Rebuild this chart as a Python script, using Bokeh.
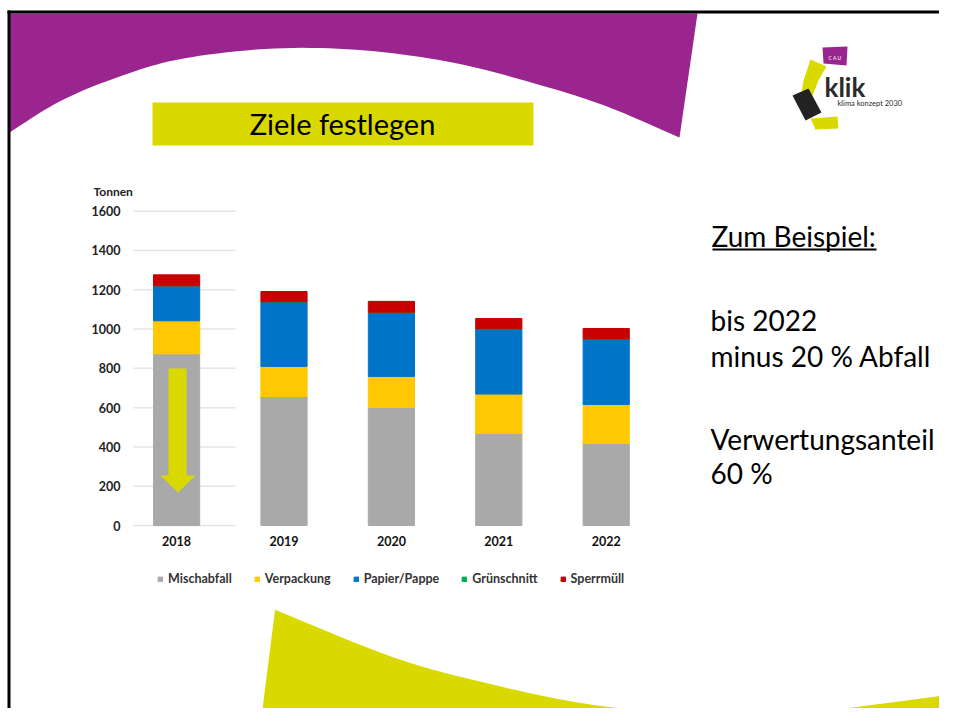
from bokeh.plotting import figure
from bokeh.models import Range1d, LinearAxis, FixedTicker, ColumnDataSource
from bokeh.core.properties import value
from bokeh.embed import file_html
from bokeh.resources import INLINE

# ---------------- data ----------------
years = [2018, 2019, 2020, 2021, 2022]
mischabfall = [874, 657, 601, 468, 418]
verpackung = [168, 153, 158, 201, 198]
papier_pappe = [178, 329, 327, 332, 334]
gruenschnitt = [0, 0, 0, 0, 0]
sperrmuell = [56, 52, 55, 53, 53]
series_names = ["Mischabfall", "Verpackung", "Papier/Pappe", "Grünschnitt", "Sperrmüll"]
y_ticks = [0, 200, 400, 600, 800, 1000, 1200, 1400, 1600]

# ---------------- layout anchors (pixels in picture) ----------------
W, H = 939, 708
OX, OY = 0, 0
X_CENTER_PX, X_CENTER_VAL, PX_PER_YEAR = 390.9, 2020, 107.4
Y0_PX, Y1600_PX = 525.0, 210.7
px_per_unit = (Y0_PX - Y1600_PX) / 1600.0

x_start = X_CENTER_VAL + (OX - X_CENTER_PX) / PX_PER_YEAR
x_end = X_CENTER_VAL + (OX + W - X_CENTER_PX) / PX_PER_YEAR
y_start = -(OY + H - Y0_PX) / px_per_unit
y_end = (Y0_PX - OY) / px_per_unit

def xdata(px):
    return X_CENTER_VAL + (px - X_CENTER_PX) / PX_PER_YEAR

p = figure(width=W, height=H, x_range=Range1d(x_start, x_end), y_range=Range1d(y_start, y_end),
           output_backend="svg", toolbar_location=None, min_border=0,
           x_axis_type=None, y_axis_type=None)
p.outline_line_color = None
p.background_fill_color = "white"
p.border_fill_color = "white"
p.extra_x_ranges = {"px": Range1d(OX, OX + W)}
p.extra_y_ranges = {"py": Range1d(OY + H, OY)}
PXR = dict(x_range_name="px", y_range_name="py")

def smooth(pts, n=10):
    P = [pts[0]] + pts + [pts[-1]]
    out = []
    for i in range(1, len(P) - 2):
        p0, p1, p2, p3 = P[i - 1], P[i], P[i + 1], P[i + 2]
        for k in range(n):
            t = k / n
            pt = []
            for d in range(2):
                pt.append(0.5 * (2 * p1[d] + (-p0[d] + p2[d]) * t
                                 + (2 * p0[d] - 5 * p1[d] + 4 * p2[d] - p3[d]) * t * t
                                 + (-p0[d] + 3 * p1[d] - 3 * p2[d] + p3[d]) * t ** 3))
            out.append(pt)
    out.append(list(pts[-1]))
    return out

PURPLE = "#9B258F"
LIME = "#D9D900"
FONT = value("Lato")

# purple swoosh top-left
arc = [(679, 137), (609, 107), (548, 87), (457, 63), (365, 50), (274, 48), (183, 58),
       (122, 75), (61, 100), (9, 132)]
purple = [(8, 13), (697, 13)] + [tuple(a) for a in smooth(arc)] + [(8, 132)]
p.patch([a[0] for a in purple], [a[1] for a in purple], fill_color=PURPLE, line_color=None, **PXR)

# yellow swoosh bottom
ycurve = [(274.6, 609.3), (392.6, 656.7), (488.9, 683.3), (585.2, 703.3), (681.5, 713.3),
          (753.7, 715), (825.9, 710), (943, 695)]
yell = [tuple(a) for a in smooth(ycurve)] + [(953, 724), (260, 724)]
p.patch([a[0] for a in yell], [a[1] for a in yell], fill_color=LIME, line_color=None, **PXR)

# black frame lines
p.segment(x0=[7, 8.5], y0=[11.5, 10], x1=[955, 8.5], y1=[11.5, 724], line_color="black", line_width=3, **PXR)

# title box
p.quad(left=[152], right=[533], top=[102], bottom=[145], fill_color=LIME, line_color=None, **PXR)
p.text(x=[342], y=[123], text=["Ziele festlegen"], text_font=FONT, text_font_size=value("29px"),
       text_align="center", text_baseline="middle", text_color="black", **PXR)

# logo
p.patch([810, 826, 818, 812, 800, 803], [59, 66, 80, 95, 98, 80], fill_color=LIME, line_color=None, **PXR)
p.patch([792, 808, 821, 805], [95, 88, 112, 120], fill_color="#222222", line_color=None, **PXR)
p.patch([810, 837, 838, 815], [118, 116, 128, 129], fill_color=LIME, line_color=None, **PXR)
p.patch([822, 847, 846, 823], [47, 46, 65, 63], fill_color=PURPLE, line_color=None, **PXR)
p.text(x=[834.5], y=[57], text=["C A U"], text_font=FONT, text_font_size=value("5px"),
       text_align="center", text_baseline="middle", text_color="white", **PXR)
p.text(x=[824], y=[86], text=["klik"], text_font=FONT, text_font_size=value("26px"),
       text_font_style="bold", text_align="left", text_baseline="middle", text_color="#2a2a2a", **PXR)
p.text(x=[837], y=[103], text=["klima konzept 2030"], text_font=FONT, text_font_size=value("7.5px"),
       text_align="left", text_baseline="middle", text_color="#2a2a2a", **PXR)

# ---------------- chart ----------------
colors = ["#A9A9A9", "#FFC800", "#0074C8", "#00B050", "#C80000"]
src = ColumnDataSource(dict(year=years, Mischabfall=mischabfall, Verpackung=verpackung,
                            PapierPappe=papier_pappe, Gruenschnitt=gruenschnitt, Sperrmuell=sperrmuell))
stack_cols = ["Mischabfall", "Verpackung", "PapierPappe", "Gruenschnitt", "Sperrmuell"]

# partial gridlines
gx0, gx1 = xdata(133), xdata(235)
p.segment(x0=[gx0] * len(y_ticks), y0=y_ticks, x1=[gx1] * len(y_ticks), y1=y_ticks,
          line_color="#E6E6E6", line_width=1.5)

p.vbar_stack(stack_cols, x="year", width=0.43, color=colors, source=src, legend_label=series_names)

yaxis = LinearAxis(ticker=FixedTicker(ticks=y_ticks), fixed_location=xdata(124))
yaxis.axis_line_color = None
yaxis.major_tick_line_color = None
yaxis.minor_tick_line_color = None
yaxis.major_tick_out = 0
yaxis.major_label_standoff = 4
yaxis.major_label_text_font = "Lato"
yaxis.major_label_text_font_style = "bold"
yaxis.major_label_text_font_size = "12.5px"
yaxis.major_label_text_color = "#222222"
p.add_layout(yaxis, "left")

xaxis = LinearAxis(ticker=FixedTicker(ticks=years), fixed_location=0)
xaxis.axis_line_color = None
xaxis.major_tick_line_color = None
xaxis.minor_tick_line_color = None
xaxis.major_tick_out = 0
xaxis.major_label_standoff = 10
xaxis.major_label_text_font = "Lato"
xaxis.major_label_text_font_style = "bold"
xaxis.major_label_text_font_size = "12.5px"
xaxis.major_label_text_color = "#111111"
p.add_layout(xaxis, "below")

p.text(x=[93], y=[191], text=["Tonnen"], text_font=FONT, text_font_size=value("12px"),
       text_font_style="bold", text_align="left", text_baseline="middle", text_color="#222222", **PXR)

leg = p.legend[0]
leg.orientation = "horizontal"
leg.location = (157, 122)
leg.label_text_font = "Lato"
leg.label_text_font_style = "bold"
leg.label_text_font_size = "12.5px"
leg.label_text_color = "#333333"
leg.glyph_width = 6
leg.glyph_height = 6
leg.label_standoff = 5
leg.spacing = 22
leg.padding = 0
leg.margin = 0
leg.label_height = 10
leg.border_line_color = None
leg.background_fill_alpha = 0

# arrow on 2018 bar
ax = [168, 186, 186, 195, 177.5, 160, 168]
ay = [368, 368, 475, 475, 492, 475, 475]
p.patch(ax, ay, fill_color=LIME, line_color=None, **PXR)

# right-hand text
p.text(x=[711], y=[235], text=["Zum Beispiel:"], text_font=FONT, text_font_size=value("28px"),
       text_align="left", text_baseline="middle", text_color="black", **PXR)
p.segment(x0=[712], y0=[249], x1=[876], y1=[249], line_color="black", line_width=2, **PXR)
p.text(x=[710, 710, 710, 710], y=[319, 355, 438, 472],
       text=["bis 2022", "minus 20 % Abfall", "Verwertungsanteil", "60 %"],
       text_font=FONT, text_font_size=value("28px"),
       text_align="left", text_baseline="middle", text_color="black", **PXR)

open("out.html", "w").write(file_html(p, INLINE))
